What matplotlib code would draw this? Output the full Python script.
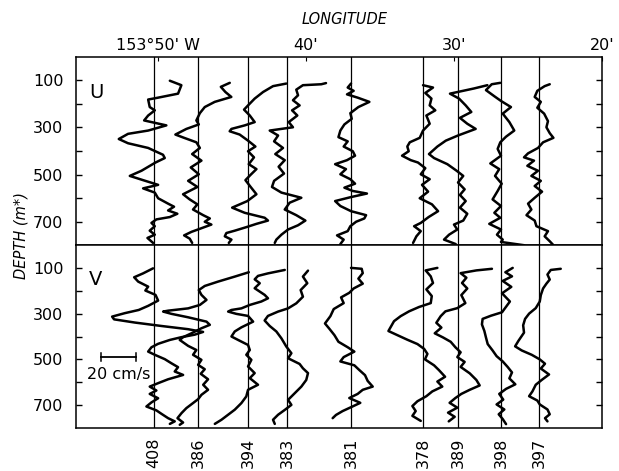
"""Current profiles (U and V) along the longitude section."""

import matplotlib
matplotlib.use("Agg")
import matplotlib.pyplot as plt

stations = ["408", "386", "394", "383", "381", "378", "389", "398", "397"]
# minutes west of 153 deg
station_lon = [50.23, 47.26, 43.89, 41.26, 36.94, 32.08, 29.72, 26.82, 24.25]

lon_ticks = [50, 40, 30, 20]
lon_labels = ["153°50' W", "40'", "30'", "20'"]
depth_ticks = [100, 200, 300, 400, 500, 600, 700]
depth_labels = ["100", "", "300", "", "500", "", "700"]

# (depth m, speed cm/s)
u_408 = [(101, 9.0), (120, 15.6), (156, 13.7), (173, 2.3), (181, -3.4), (213, -2.5),
         (227, 0.4), (249, -3.4), (270, -5.7), (291, 7.0), (313, -3.4), (327, -14.9),
         (349, -20.2), (367, -14.9), (387, -3.4), (416, 5.1), (430, 6.1), (449, 0.8),
         (484, -7.2), (506, -13.9), (524, -6.3), (544, 2.3), (559, -6.3), (577, 0.4),
         (601, 2.3), (624, 8.0), (637, 11.4), (653, 8.0), (667, 13.3), (681, 9.0),
         (691, 1.3), (706, -1.5), (720, 0.4), (739, -2.5), (756, 0.4), (770, -3.8),
         (791, -0.6)]
u_386 = [(110, 18.1), (127, 13.0), (149, 15.6), (170, 19.0), (191, 9.5), (213, 3.8),
         (239, 1.0), (270, -1.0), (287, 0.4), (306, -6.7), (330, -13.0), (344, -8.0),
         (363, -1.0), (387, 1.0), (413, -3.4), (441, 1.9), (470, -4.2), (499, 0.4),
         (527, -5.7), (553, -0.4), (584, -8.6), (606, -4.8), (627, -0.4), (649, -2.9),
         (673, 2.9), (687, 6.7), (701, 3.8), (713, 7.6), (731, 1.0), (744, -3.8),
         (759, -8.0), (773, -4.8), (791, -3.4)]
u_394 = [(113, 21.9), (124, 14.3), (149, 8.6), (177, 3.8), (206, 0.0), (224, -2.3),
         (249, 1.0), (277, 3.8), (291, -1.9), (306, -9.5), (316, -10.5), (330, -4.8),
         (356, 0.0), (381, 4.2), (401, 0.0), (427, 3.4), (456, 0.4), (477, 4.8),
         (501, 1.5), (524, -1.5), (553, 1.5), (584, 4.8), (613, -0.4), (641, -9.1),
         (663, -1.9), (684, 9.5), (696, 11.4), (710, 4.8), (724, -1.0), (739, -7.6),
         (749, -12.4), (763, -13.3), (777, -9.5), (791, -11.0)]
u_383 = [(111, 22.3), (116, 19.6), (120, 9.1), (139, 5.3), (163, 6.3), (184, 3.4),
         (206, 7.2), (227, 2.9), (249, 5.9), (277, 1.0), (299, 3.4), (313, -9.9),
         (334, -5.1), (359, -7.4), (387, -2.3), (413, -6.7), (439, -1.3), (467, -4.8),
         (496, -1.7), (527, -7.4), (553, -8.6), (577, -3.2), (599, 8.2), (620, 1.5),
         (649, -1.3), (673, 5.3), (696, 10.5), (716, 6.3), (734, 0.6), (756, -3.2),
         (777, -6.1), (791, -7.0)]
u_381 = [(113, 0.0), (130, -1.9), (144, 1.5), (159, -2.3), (173, 3.8), (191, 10.5),
         (213, 4.2), (239, -0.4), (263, 0.4), (287, -3.8), (313, -6.1), (341, -7.2),
         (359, -1.9), (381, -4.2), (401, 1.0), (420, 2.3), (439, -2.3), (456, -9.1),
         (477, -2.9), (499, -6.1), (520, -0.4), (539, 2.3), (556, -3.8), (570, 1.0),
         (581, 9.1), (596, 0.0), (613, -9.1), (634, -6.1), (656, 0.0), (673, 8.6),
         (687, 7.6), (701, 2.9), (720, -0.4), (741, -1.9), (759, -8.0), (777, -4.2),
         (796, -6.1)]
u_378 = [(120, 0.0), (130, 5.7), (153, 1.3), (177, 4.8), (206, 3.8), (227, 7.0),
         (249, 1.9), (284, 3.8), (313, 0.0), (344, -1.9), (363, -7.6), (381, -9.0),
         (401, -8.2), (420, -12.0), (439, -7.0), (449, -2.9), (473, 1.3), (499, -1.3),
         (520, 3.8), (544, -0.6), (573, 2.9), (601, -1.9), (627, 5.1), (656, 8.6),
         (681, 3.2), (706, -1.3), (720, -5.1), (741, -1.3), (763, -3.8), (791, -5.7)]
u_389 = [(120, 16.8), (134, 9.1), (156, -4.6), (177, 0.6), (206, 4.4), (234, 7.6),
         (259, 1.1), (284, 5.3), (306, 10.1), (334, 0.0), (356, -7.0), (381, -11.8),
         (413, -16.6), (430, -13.7), (456, -6.1), (484, -0.8), (506, 3.0), (534, 0.0),
         (563, 3.8), (587, 1.1), (613, 4.4), (641, 1.1), (667, 5.3), (696, 3.0),
         (713, -2.3), (734, -0.4), (756, -5.1), (777, -8.0), (796, -1.3)]
u_398 = [(110, -0.4), (116, -5.3), (141, -8.6), (167, -3.8), (187, 0.0), (213, 5.7),
         (241, 1.0), (277, 4.8), (313, 7.6), (339, 2.9), (363, -0.4), (391, -1.9),
         (420, 0.0), (453, -6.1), (477, -1.0), (506, -3.4), (539, 0.4), (570, -1.9),
         (606, -4.8), (634, 0.0), (663, -3.8), (684, -0.4), (710, -6.7), (734, 0.0),
         (756, -2.3), (777, 1.0), (787, 0.0), (801, 13.3)]
u_397 = [(116, 6.1), (124, 3.2), (144, -1.0), (170, -2.5), (191, 1.0), (216, -1.0),
         (241, 2.9), (273, 5.1), (299, 4.2), (324, 6.1), (344, 8.2), (363, 2.3),
         (387, -0.6), (410, -6.3), (427, -8.6), (441, -2.9), (463, -6.7), (484, -0.6),
         (506, -4.4), (527, 1.0), (549, -2.5), (573, 1.7), (599, -2.5), (624, -6.3),
         (649, -4.4), (673, -7.2), (696, -2.5), (720, -1.5), (741, 5.1), (763, 3.2),
         (784, 6.1), (799, 8.0)]

v_408 = [(102, -0.6), (124, -6.3), (141, -11.4), (160, -9.1), (182, -3.4), (199, -5.0),
         (218, 0.8), (243, 2.3), (266, -3.4), (284, -8.8), (298, -16.8), (313, -24.0),
         (325, -22.9), (339, -11.0), (354, 4.2), (368, 19.4), (380, 28.0), (392, 23.2),
         (403, 15.6), (415, 9.0), (432, 2.3), (447, -1.5), (466, -3.4), (480, 0.4),
         (499, 6.1), (517, 9.9), (534, 13.7), (553, 11.8), (568, 16.6), (587, 8.0),
         (604, 2.3), (619, -2.5), (636, 1.3), (651, -2.5), (670, 2.3), (688, -1.5),
         (706, -4.4), (723, 1.3), (738, 4.2), (757, 8.0), (771, 11.8), (782, 9.0)]
v_386 = [(119, 29.0), (138, 21.0), (160, 11.4), (179, 3.8), (197, 0.4), (218, 1.9),
         (240, 4.8), (262, 1.0), (277, -5.7), (287, -17.1), (291, -20.0), (301, -15.2),
         (316, -5.7), (335, 4.8), (349, 6.7), (364, 1.9), (386, -3.8), (403, -8.6),
         (415, -10.5), (441, -5.7), (459, -1.0), (480, -2.9), (502, 1.9), (524, 0.0),
         (543, 3.8), (563, 1.5), (587, 5.7), (611, 2.9), (633, 5.7), (655, 1.9),
         (674, 0.0), (691, -2.9), (713, -6.7), (735, -9.5), (757, -11.8), (776, -8.6),
         (786, -10.5)]
v_394 = [(109, 21.0), (124, 11.4), (135, 5.7), (150, 3.8), (167, 6.7), (189, 3.8),
         (218, 9.5), (233, 11.4), (247, 7.6), (262, 1.0), (277, -3.8), (284, -9.5),
         (291, -11.4), (301, -6.7), (310, 0.0), (335, 2.9), (360, -3.8), (378, -7.6),
         (400, -9.5), (415, -5.7), (437, 0.0), (459, 1.0), (480, -1.0), (502, 1.9),
         (531, 0.0), (560, 3.8), (582, 1.0), (611, 5.7), (633, 0.0), (662, -1.0),
         (691, -3.8), (720, -7.6), (742, -11.4), (764, -15.2), (782, -19.0)]
v_383 = [(112, 12.0), (138, 9.1), (167, 11.6), (197, 7.8), (226, 9.1), (255, 5.3),
         (277, 0.6), (291, -5.1), (310, -10.9), (330, -12.8), (354, -9.9), (378, -6.1),
         (408, -3.2), (444, -0.4), (473, 2.5), (495, 0.6), (520, 7.2), (539, 9.1),
         (560, 12.0), (590, 11.0), (619, 8.2), (648, 4.4), (677, 0.6), (699, 2.5),
         (721, -1.3), (742, -5.1), (764, -8.0), (782, -7.0)]
v_381 = [(100, 0.0), (104, 6.1), (123, 6.7), (147, 4.2), (169, 6.7), (190, 1.5),
         (209, -1.0), (229, -5.7), (254, -4.2), (280, -9.9), (311, -11.8), (343, -14.9),
         (366, -12.4), (394, -9.5), (423, -7.2), (447, -1.9), (466, 1.9), (490, -4.2),
         (509, -6.1), (526, 1.9), (547, 4.8), (569, 8.0), (594, 9.5), (619, 12.4),
         (633, 6.7), (651, 3.8), (669, -1.0), (690, 5.3), (709, 0.0), (726, -4.8),
         (743, -8.6), (757, -10.5)]
v_378 = [(100, 8.2), (111, 1.5), (137, 4.4), (166, 5.7), (194, 1.9), (223, 5.0),
         (254, 4.4), (271, -2.3), (290, -8.0), (311, -12.8), (333, -16.6), (376, -19.8),
         (394, -14.7), (414, -9.0), (433, -3.2), (454, 0.6), (476, 2.5), (500, 1.1),
         (526, 6.3), (547, 9.1), (576, 12.6), (597, 8.2), (619, 11.0), (640, 5.3),
         (661, 1.9), (683, -3.2), (704, -6.1), (726, -4.2), (747, -6.1), (769, -1.3)]
v_389 = [(104, 19.4), (111, 10.5), (123, 1.5), (143, 4.8), (166, 2.3), (190, 5.3),
         (219, 1.9), (254, 4.2), (276, -0.4), (290, -7.2), (311, -9.9), (340, -12.4),
         (361, -9.5), (386, -13.3), (404, -8.6), (423, -4.2), (447, -1.5), (469, 1.5),
         (490, -0.4), (511, 3.8), (533, 1.5), (561, 6.7), (590, 10.5), (614, 12.4),
         (633, 6.7), (651, 1.9), (669, -1.5), (690, -4.8), (711, -0.4), (733, -5.7),
         (751, -1.9), (771, -5.3)]
v_398 = [(100, 6.7), (119, 2.5), (137, 6.3), (157, 1.0), (183, 5.9), (211, 0.6),
         (247, 5.1), (294, 0.6), (309, -5.7), (323, -10.5), (347, -10.9), (376, -9.5),
         (404, -8.6), (433, -7.6), (461, -4.8), (486, -2.5), (509, 1.0), (533, 3.8),
         (557, 6.3), (583, 4.8), (609, 8.2), (629, 2.9), (651, -1.0), (676, 1.3),
         (697, -2.5), (719, 1.9), (740, -1.3), (761, 1.0), (783, 2.9)]
v_397 = [(104, 12.4), (109, 6.7), (129, 4.8), (151, 6.1), (169, 4.2), (190, 2.3),
         (219, 1.0), (247, 0.4), (276, -1.9), (300, -5.7), (323, -8.0), (351, -9.1),
         (383, -8.6), (419, -11.8), (443, -13.7), (461, -9.9), (480, -4.2), (500, 0.4),
         (519, 3.4), (540, 1.0), (566, 5.7), (590, 1.5), (611, -1.9), (640, -3.8),
         (661, -5.7), (680, -1.0), (697, 0.4), (719, 4.8), (740, 6.1), (757, 3.4),
         (771, 4.8)]

u_profiles = [u_408, u_386, u_394, u_383, u_381, u_378, u_389, u_398, u_397]
v_profiles = [v_408, v_386, v_394, v_383, v_381, v_378, v_389, v_398, v_397]

scale_speed = 20  # cm/s
KM = 0.118  # longitude minutes per cm/s on the page

plt.rcParams["font.family"] = "DejaVu Sans"


def draw_panel(ax, profiles, letter):
    ax.set_xlim(55.5, 20)
    ax.set_ylim(800, 0)
    for lon in station_lon:
        ax.axvline(lon, color="black", lw=0.9, zorder=1)
    for lon, prof in zip(station_lon, profiles):
        d = [p[0] for p in prof]
        x = [lon - p[1] * KM for p in prof]
        ax.plot(x, d, color="black", lw=1.8, solid_joinstyle="round",
                solid_capstyle="round", zorder=2)
    ax.set_yticks(depth_ticks)
    ax.set_yticklabels(depth_labels, fontsize=11.5)
    ax.tick_params(axis="y", direction="in", length=4, width=1, left=True,
                   right=True, pad=9)
    ax.text(54.15, 150, letter, fontsize=14, ha="center", va="center")
    for s in ax.spines.values():
        s.set_linewidth(1.1)


fig = plt.figure(figsize=(6.19, 4.71), dpi=100)
ax_u = fig.add_axes([0.1228, 0.4798, 0.8498, 0.3992])
ax_v = fig.add_axes([0.1228, 0.0913, 0.8498, 0.3885])

draw_panel(ax_u, u_profiles, "U")
draw_panel(ax_v, v_profiles, "V")

# longitude along the top
ax_u.set_xticks(lon_ticks)
ax_u.set_xticklabels(lon_labels, fontsize=11.5)
ax_u.tick_params(axis="x", direction="in", length=3, top=True, bottom=False,
                 labeltop=True, labelbottom=False, pad=3)

# station numbers along the bottom
ax_v.set_xticks(station_lon)
ax_v.set_xticklabels(stations, rotation=90, fontsize=11.5)
ax_v.tick_params(axis="x", length=0, pad=7)

# velocity scale bar
x0 = 53.8
ax_v.plot([x0, x0 - scale_speed * KM], [489, 489], color="black", lw=1.3)
for xe in (x0, x0 - scale_speed * KM):
    ax_v.plot([xe, xe], [470, 508], color="black", lw=1.1)
ax_v.text(x0 - scale_speed * KM / 2, 565, "20 cm/s", fontsize=11.5,
          ha="center", va="center")

fig.text(0.556, 0.958, "LONGITUDE", fontsize=10.5, style="italic",
         ha="center", va="center")
fig.text(0.034, 0.50, "DEPTH (m*)", fontsize=10.5, style="italic",
         rotation=90, ha="center", va="center")

fig.savefig("out.png", dpi=100)
